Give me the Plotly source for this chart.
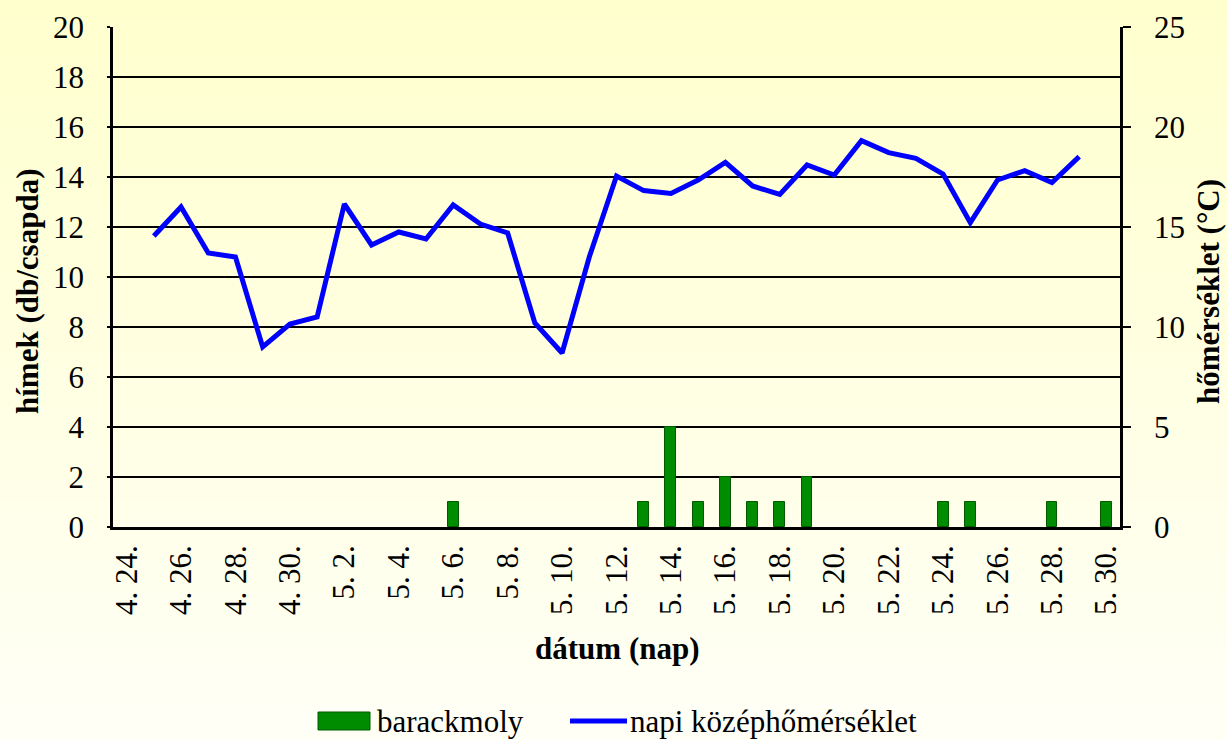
import plotly.graph_objects as go

# ---- data ----
dates = ["4. 24.", "4. 25.", "4. 26.", "4. 27.", "4. 28.", "4. 29.", "4. 30.",
         "5. 1.", "5. 2.", "5. 3.", "5. 4.", "5. 5.", "5. 6.", "5. 7.", "5. 8.",
         "5. 9.", "5. 10.", "5. 11.", "5. 12.", "5. 13.", "5. 14.", "5. 15.",
         "5. 16.", "5. 17.", "5. 18.", "5. 19.", "5. 20.", "5. 21.", "5. 22.",
         "5. 23.", "5. 24.", "5. 25.", "5. 26.", "5. 27.", "5. 28.", "5. 29.", "5. 30."]
barackmoly = [0, 0, 0, 0, 0, 0, 0, 0, 0, 0, 0, 0, 1, 0, 0, 0, 0, 0, 0, 1, 4, 1,
              2, 1, 1, 2, 0, 0, 0, 0, 1, 1, 0, 0, 1, 0, 1]
homerseklet = [None, 14.55, 16.0, 13.7, 13.5, 9.0, 10.15, 10.5, 16.15, 14.1, 14.75,
               14.4, 16.1, 15.15, 14.7, 10.2, 8.7, 13.5, 17.55, 16.82, 16.68, 17.35,
               18.23, 17.05, 16.63, 18.1, 17.6, 19.32, 18.72, 18.43, 17.65, 15.22,
               17.35, 17.82, 17.22, 18.52, None]
series_names = ["barackmoly", "napi középhőmérséklet"]
label_every = 2

idx = list(range(len(dates)))
FONT = "Liberation Serif"
FS = 31
W, H = 1227, 740
L, R, T, B = 113, 1120, 27, 527
PW, PH = R - L, B - T
BAR_COLOR, BAR_EDGE, LINE_COLOR = "#008C00", "#005A00", "#0000FF"


def px_x(x):
    return (x - L) / PW


def px_y(y):
    return (B - y) / PH


fig = go.Figure()
fig.add_trace(go.Bar(
    x=idx, y=[v if v else None for v in barackmoly], name=series_names[0], width=0.4,
    marker=dict(color=BAR_COLOR, line=dict(color=BAR_EDGE, width=1)),
    yaxis="y", xaxis="x", showlegend=False,
))
fig.add_trace(go.Scatter(
    x=idx, y=homerseklet, name=series_names[1], mode="lines",
    line=dict(color=LINE_COLOR, width=5), yaxis="y2", xaxis="x",
    connectgaps=False, showlegend=False,
))

# background gradient (light yellow -> almost white)
n = 40
shapes = []
for i in range(n):
    t = i / (n - 1)
    g = int(round(206 + (246 - 206) * t))
    top_px = i * (H / n)
    bot_px = (i + 1) * (H / n) + 1
    shapes.append(dict(type="rect", xref="paper", yref="paper",
                       x0=px_x(0), x1=px_x(W), y0=px_y(bot_px), y1=px_y(top_px),
                       fillcolor=f"rgb(255,255,{g})", line=dict(width=0), layer="below"))

# manual legend (Excel style)
LEG_Y = 721
shapes.append(dict(type="rect", xref="paper", yref="paper",
                   x0=px_x(318), x1=px_x(370), y0=px_y(730), y1=px_y(712),
                   fillcolor=BAR_COLOR, line=dict(color=BAR_EDGE, width=1)))
shapes.append(dict(type="line", xref="paper", yref="paper",
                   x0=px_x(570), x1=px_x(627), y0=px_y(LEG_Y), y1=px_y(LEG_Y),
                   line=dict(color=LINE_COLOR, width=5)))

tickvals = idx[::label_every]
ticktext = dates[::label_every]
boundaries = [i - 0.5 for i in range(0, len(dates) + 1, label_every)]

fig.update_layout(
    width=W, height=H,
    margin=dict(l=L, r=W - R, t=T, b=H - B, autoexpand=False),
    paper_bgcolor="#FFFFF0",
    plot_bgcolor="rgba(0,0,0,0)",
    font=dict(family=FONT, size=FS, color="black"),
    shapes=shapes,
    bargap=0,
    showlegend=False,
    xaxis=dict(range=[-0.5, len(dates) - 0.5], tickmode="array", tickvals=tickvals,
               ticktext=ticktext, tickangle=-90, ticks="outside", ticklen=3,
               tickcolor="rgba(0,0,0,0)", showgrid=False, zeroline=False,
               showline=True, linecolor="black", linewidth=2.5, automargin=False,
               tickfont=dict(family=FONT, size=FS)),
    xaxis2=dict(range=[-0.5, len(dates) - 0.5], overlaying="x", anchor="y",
                side="bottom", tickmode="array", tickvals=boundaries,
                showticklabels=False, ticks="outside", ticklen=8, tickwidth=2.5,
                tickcolor="black", showgrid=False, zeroline=False, showline=False,
                automargin=False),
    yaxis=dict(range=[0, 20], dtick=2, tick0=0, showgrid=True, gridcolor="black",
               gridwidth=2, zeroline=False, showline=True, linecolor="black",
               linewidth=2.5, ticks="outside", ticklen=3, tickwidth=2, tickcolor="black",
               ticklabelstandoff=17, automargin=False,
               tickfont=dict(family=FONT, size=FS)),
    yaxis2=dict(range=[0, 25], dtick=5, tick0=0, overlaying="y", side="right",
                anchor="x", showgrid=False, zeroline=False, showline=True,
                linecolor="black", linewidth=2.5, ticks="outside", ticklen=8,
                tickwidth=2, tickcolor="black", ticklabelstandoff=17, automargin=False,
                tickfont=dict(family=FONT, size=FS)),
    annotations=[
        dict(text="<b>hímek (db/csapda)</b>", xref="paper", yref="paper",
             x=px_x(27), y=px_y(292), textangle=-90, showarrow=False,
             xanchor="center", yanchor="middle", font=dict(family=FONT, size=FS)),
        dict(text="<b>hőmérséklet (°C)</b>", xref="paper", yref="paper",
             x=px_x(1208), y=px_y(292), textangle=-90, showarrow=False,
             xanchor="center", yanchor="middle", font=dict(family=FONT, size=FS)),
        dict(text="<b>dátum (nap)</b>", xref="paper", yref="paper",
             x=px_x(617), y=px_y(648), showarrow=False,
             xanchor="center", yanchor="middle", font=dict(family=FONT, size=FS)),
        dict(text=series_names[0], xref="paper", yref="paper",
             x=px_x(375), y=px_y(LEG_Y), showarrow=False,
             xanchor="left", yanchor="middle", font=dict(family=FONT, size=FS)),
        dict(text=series_names[1], xref="paper", yref="paper",
             x=px_x(628), y=px_y(LEG_Y), showarrow=False,
             xanchor="left", yanchor="middle", font=dict(family=FONT, size=FS)),
    ],
)

fig.write_html("out.html", config={"displayModeBar": False},
               post_script="document.body.style.margin='0';")
